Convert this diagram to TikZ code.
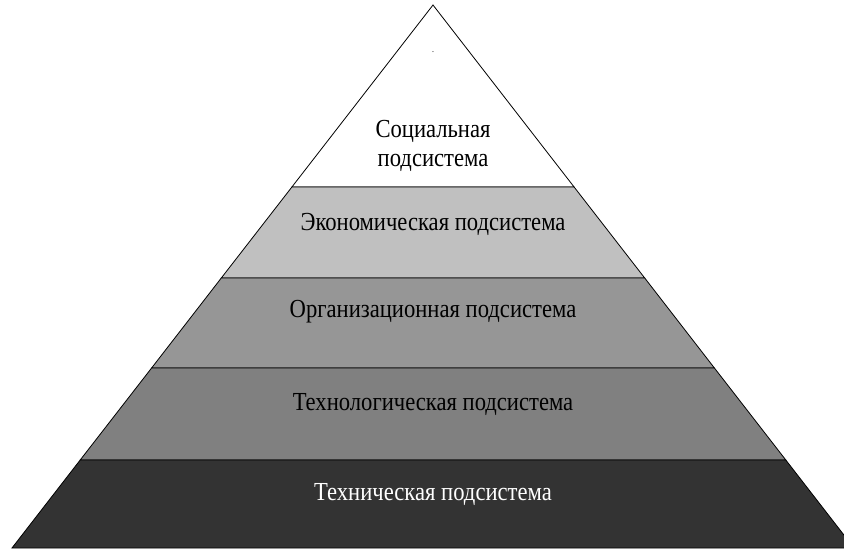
\documentclass[tikz,border=0pt]{standalone}
\usepackage{fontspec}
\setmainfont{Liberation Serif}[FakeStretch=0.87]
\definecolor{CLight}{HTML}{C0C0C0}
\definecolor{CMid}{HTML}{969696}
\definecolor{CDarkMid}{HTML}{808080}
\definecolor{CDark}{HTML}{333333}
\tikzset{layertext/.style={align=center, font=\fontsize{26}{29}\selectfont}}

\begin{document}
\begin{tikzpicture}[x=1pt, y=-1pt, line width=0.8pt]
    \useasboundingbox (0, 0) rectangle (844, 549);
    \clip (0, 0) rectangle (844, 549);

    % layers of the pyramid, top to bottom
    \draw [fill=white]    (433, 5) -- (574.1, 187) -- (291.9, 187) -- cycle;
    \draw [fill=CLight]   (291.9, 187) -- (574.1, 187) -- (644.7, 278) -- (221.3, 278) -- cycle;
    \draw [fill=CMid]     (221.3, 278) -- (644.7, 278) -- (714.4, 368) -- (151.6, 368) -- cycle;
    \draw [fill=CDarkMid] (151.6, 368) -- (714.4, 368) -- (785.8, 460) -- (80.2, 460) -- cycle;
    \draw [fill=CDark]    (80.2, 460) -- (785.8, 460) -- (854, 548) -- (12, 548) -- cycle;

    \node [font=\fontsize{9}{9}\selectfont] (dot) at (433, 52) {.};

    \node [layertext] (social) at (433, 146) {Социальная\\подсистема};
    \node [layertext] (econ)   at (433, 224) {Экономическая подсистема};
    \node [layertext] (org)    at (433, 312) {Организационная подсистема};
    \node [layertext] (techn)  at (433, 404) {Технологическая подсистема};
    \node [layertext, text=white] (tech) at (433, 494) {Техническая подсистема};
\end{tikzpicture}
\end{document}
